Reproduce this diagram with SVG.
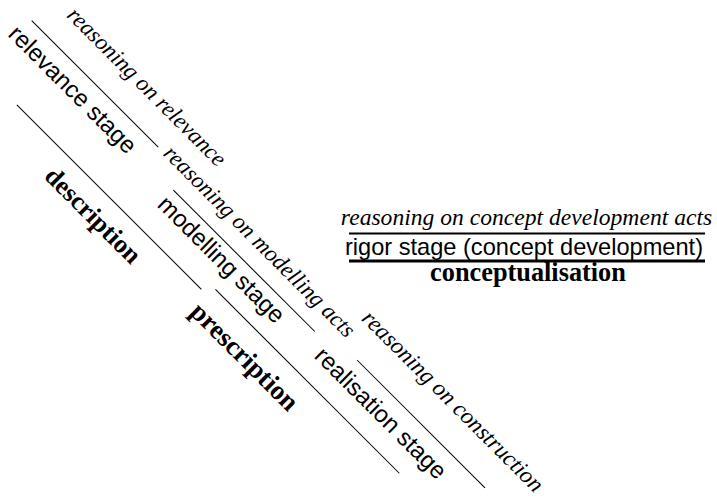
<svg xmlns="http://www.w3.org/2000/svg" width="717" height="498" viewBox="0 0 717 498">
  <style>
    .it { font-family: "Liberation Serif", "Times New Roman", serif; font-style: italic; font-size: 23px; fill: #000; }
    .sa { font-family: "Liberation Sans", Arial, sans-serif; font-size: 24px; fill: #000; }
    .bd { font-family: "Liberation Serif", "Times New Roman", serif; font-weight: bold; font-size: 26px; fill: #000; }
    .ln { stroke: #000; stroke-width: 1; fill: none; }
  </style>
  <rect width="717" height="498" fill="#fff"/>
  <g id="connectors" transform="rotate(45)">
    <line class="ln" x1="37" y1="-7.8" x2="216" y2="-7.8"/>
    <line class="ln" x1="86" y1="62.2" x2="347" y2="62.2"/>
    <line class="ln" x1="257" y1="11.8" x2="457" y2="11.8"/>
    <line class="ln" x1="357" y1="52.3" x2="617" y2="52.3"/>
    <line class="ln" x1="507" y1="2.1" x2="688" y2="2.1"/>
  </g>
  <g id="reasoning-relevance" transform="rotate(45)"><text class="it" x="58" y="-35">reasoning on relevance</text></g>
  <g id="relevance-stage" transform="rotate(45)"><text class="sa" x="30" y="20">relevance stage</text></g>
  <g id="description" transform="rotate(45)"><text class="bd" x="156" y="95">description</text></g>
  <g id="reasoning-modelling" transform="rotate(45)"><text class="it" x="224" y="-5.4">reasoning on modelling acts</text></g>
  <g id="modelling-stage" transform="rotate(45)"><text class="sa" x="256" y="35">modelling stage</text></g>
  <g id="prescription" transform="rotate(45)"><text class="bd" x="355" y="88" style="font-size:27px">prescription</text></g>
  <g id="realisation-stage" transform="rotate(45)"><text class="sa" x="474" y="31">realisation stage</text></g>
  <g id="reasoning-construction" transform="rotate(45)"><text class="it" x="481" y="-29" style="font-size:23.5px">reasoning on construction</text></g>
  <g id="conceptualisation-block">
    <text class="it" x="526.5" y="225" text-anchor="middle" style="font-size:23.6px">reasoning on concept development acts</text>
    <line x1="349" y1="233.5" x2="705" y2="233.5" stroke="#000" stroke-width="2"/>
    <text class="sa" x="524" y="255" text-anchor="middle" style="font-size:23.6px">rigor stage (concept development)</text>
    <line x1="349" y1="261" x2="705" y2="261" stroke="#000" stroke-width="3"/>
    <text class="bd" x="528" y="281" text-anchor="middle" style="font-size:26.3px">conceptualisation</text>
  </g>
</svg>
